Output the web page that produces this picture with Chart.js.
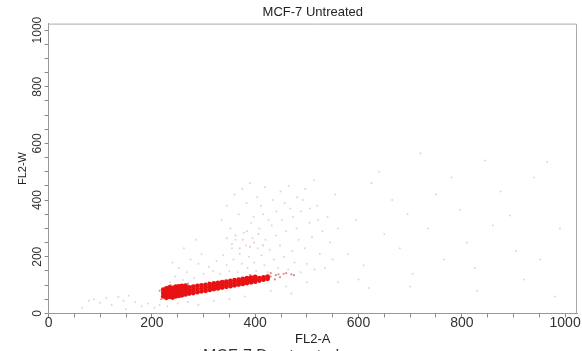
<!DOCTYPE html>
<html>
<head>
<meta charset="utf-8">
<script src="https://cdn.jsdelivr.net/npm/chart.js@4.4.1/dist/chart.umd.min.js"></script>
<style>
  body { margin: 0; background: #fff; overflow: hidden; }
  #wrap { position: relative; width: 582px; height: 351px; }
  #next { position: absolute; left: 203px; top: 347px; font: 16px "Liberation Sans", Arial, sans-serif; color: #333; white-space: nowrap; }
</style>
</head>
<body>
<div id="wrap">
  <canvas id="facsPlot" width="582" height="351"></canvas>
  <div id="next">MCF-7 Dox treated</div>
</div>
<script>
// channel range of the cytometer (0..1023)
const axisMax = 1023;
const tickStep = 50;
const labelStep = 200;

// dense red singlet band (FL2-A, FL2-W)
const bandPoints = [
    [222, 60], [222, 72], [222, 84],
    [228, 55], [228, 66], [228, 77], [228, 88],
    [234, 58], [234, 70], [234, 82], [234, 92],
    [240, 56], [240, 68], [240, 79], [240, 90],
    [246, 60], [246, 72], [246, 84], [246, 94],
    [252, 62], [252, 74], [252, 86], [252, 95],
    [258, 64], [258, 75], [258, 87], [258, 97],
    [265, 67], [265, 78], [265, 89], [265, 98],
    [272, 70], [272, 81], [272, 92],
    [280, 72], [280, 83], [280, 94],
    [288, 75], [288, 86], [288, 97],
    [296, 78], [296, 88], [296, 99],
    [304, 80], [304, 91], [304, 101],
    [312, 83], [312, 93], [312, 103],
    [320, 86], [320, 96], [320, 106],
    [328, 88], [328, 98], [328, 108],
    [336, 91], [336, 101], [336, 110],
    [344, 94], [344, 103], [344, 112],
    [352, 96], [352, 106], [352, 115],
    [360, 99], [360, 108], [360, 117],
    [368, 102], [368, 111], [368, 119],
    [376, 104], [376, 113], [376, 122],
    [384, 107], [384, 116], [384, 124],
    [392, 110], [392, 118], [392, 126],
    [400, 112], [400, 121], [400, 129],
    [408, 116], [408, 124],
    [416, 119], [416, 127],
    [424, 122], [424, 130]
];

// darker red events just off the band
const redScatter = [
    [215, 80], [218, 50], [236, 100], [270, 105], [310, 110], [345, 90],
    [390, 135], [430, 130], [445, 138], [460, 142], [475, 135], [438, 120],
    [440, 135], [455, 140], [470, 138], [430, 142], [448, 128]
];

// faint pink events inside the doublet cloud
const pinkPoints = [
    [355, 245], [362, 275], [370, 230], [376, 260], [384, 290],
    [390, 235], [398, 250], [406, 280], [345, 265], [415, 240]
];

// grey debris / doublets
const greyPoints = [
    [300, 140], [310, 165], [318, 150], [325, 185], [332, 140], [338, 205], [345, 170], [350, 150],
    [355, 230], [358, 190], [362, 260], [366, 145], [370, 210], [374, 175], [378, 285], [382, 240],
    [385, 160], [388, 200], [392, 320], [395, 265], [398, 180], [402, 150], [405, 230], [408, 300],
    [412, 205], [415, 350], [418, 170], [420, 260], [424, 145], [428, 225], [432, 310], [436, 190],
    [440, 275], [444, 160], [448, 240], [452, 330], [456, 200], [460, 290], [464, 155], [468, 370],
    [472, 220], [476, 180], [480, 300], [484, 260], [488, 145], [492, 400], [496, 230], [500, 175],
    [505, 320], [510, 270], [515, 155], [520, 380], [525, 210], [530, 290], [535, 160], [540, 340],
    [545, 250], [550, 190], [555, 420], [560, 300],
    [335, 330], [345, 380], [352, 300], [360, 420], [368, 350], [375, 440], [383, 390], [390, 460],
    [397, 340], [404, 410], [411, 380], [419, 445], [426, 330], [434, 400], [441, 360], [449, 430],
    [457, 390], [465, 450], [473, 340], [481, 410], [489, 360], [497, 440], [506, 370], [514, 470],
    [522, 330],
    [235, 110], [245, 130], [252, 160], [260, 118], [268, 145], [275, 190], [282, 125], [290, 175],
    [296, 210], [262, 230], [285, 260], [240, 180],
    [580, 210], [595, 330], [610, 170], [625, 460], [640, 500], [650, 280], [665, 400], [680, 230],
    [695, 350], [705, 140], [720, 565], [735, 300], [750, 420], [765, 190], [780, 480], [797, 365],
    [810, 250], [825, 160], [845, 540], [860, 310], [875, 430], [893, 346], [905, 220], [920, 120],
    [940, 480], [952, 190], [965, 535], [980, 60], [990, 300], [600, 120], [700, 95], [830, 80],
    [560, 110], [620, 90],
    [65, 20], [78, 45], [88, 50], [100, 38], [112, 55], [122, 30], [135, 58], [145, 45],
    [155, 62], [168, 40], [180, 25], [192, 35], [205, 20], [215, 30], [230, 25], [250, 35],
    [270, 40], [290, 30], [320, 45], [350, 50], [380, 60], [430, 80], [460, 95], [500, 110],
    [470, 70], [150, 15]
];

const toXY = list => list.map(p => ({ x: p[0], y: p[1] }));
const fontFamily = '"Liberation Sans", Arial, sans-serif';

// top + right frame lines of the plot box
const frameBox = {
    id: 'frameBox',
    afterDraw(chart) {
        const { ctx, chartArea: a } = chart;
        ctx.save();
        ctx.strokeStyle = '#aaa';
        ctx.lineWidth = 1;
        ctx.beginPath();
        ctx.moveTo(a.left, a.top + 0.5);
        ctx.lineTo(a.right - 0.5, a.top + 0.5);
        ctx.lineTo(a.right - 0.5, a.bottom);
        ctx.stroke();
        ctx.restore();
    }
};

const labelTicks = v => (v % labelStep === 0 ? v : '');

const facsChart = new Chart(document.getElementById('facsPlot').getContext('2d'), {
    type: 'scatter',
    data: {
        datasets: [
            { label: 'band', data: toXY(bandPoints), backgroundColor: 'rgb(232,18,18)', borderWidth: 0, pointRadius: 2.4 },
            { label: 'red', data: toXY(redScatter), backgroundColor: 'rgba(200,40,40,0.55)', borderWidth: 0, pointRadius: 1.1 },
            { label: 'pink', data: toXY(pinkPoints), backgroundColor: 'rgba(220,120,130,0.4)', borderWidth: 0, pointRadius: 1.1 },
            { label: 'grey', data: toXY(greyPoints), backgroundColor: 'rgba(120,120,120,0.28)', borderWidth: 0, pointRadius: 1 }
        ]
    },
    options: {
        responsive: false,
        animation: false,
        layout: { padding: { left: 16, right: 5, top: 0, bottom: 4 } },
        plugins: {
            legend: { display: false },
            tooltip: { enabled: false },
            title: {
                display: true,
                text: 'MCF-7 Untreated',
                fullSize: false,
                color: '#222',
                font: { family: fontFamily, size: 13, weight: 'normal' },
                padding: { top: 5, bottom: 3 }
            }
        },
        scales: {
            x: {
                type: 'linear',
                min: 0,
                max: axisMax,
                grid: { drawOnChartArea: false, tickLength: 4, color: '#888' },
                border: { color: '#999' },
                ticks: {
                    stepSize: tickStep, includeBounds: false, autoSkip: false, maxRotation: 0,
                    padding: -1, color: '#333', font: { family: fontFamily, size: 14, lineHeight: 1 },
                    callback: labelTicks
                },
                title: { display: true, text: 'FL2-A', color: '#222', font: { family: fontFamily, size: 13 }, padding: { top: 2, bottom: 0 } }
            },
            y: {
                type: 'linear',
                min: 0,
                max: axisMax,
                grid: { drawOnChartArea: false, tickLength: 4, color: '#888' },
                border: { color: '#999' },
                ticks: {
                    stepSize: tickStep, includeBounds: false, autoSkip: false,
                    minRotation: 90, maxRotation: 90, crossAlign: 'center',
                    padding: -6, color: '#333', font: { family: fontFamily, size: 12 },
                    callback: labelTicks
                },
                title: { display: true, text: 'FL2-W', color: '#222', font: { family: fontFamily, size: 11 }, padding: { top: 0, bottom: 13 } }
            }
        }
    },
    plugins: [frameBox]
});
</script>
</body>
</html>
